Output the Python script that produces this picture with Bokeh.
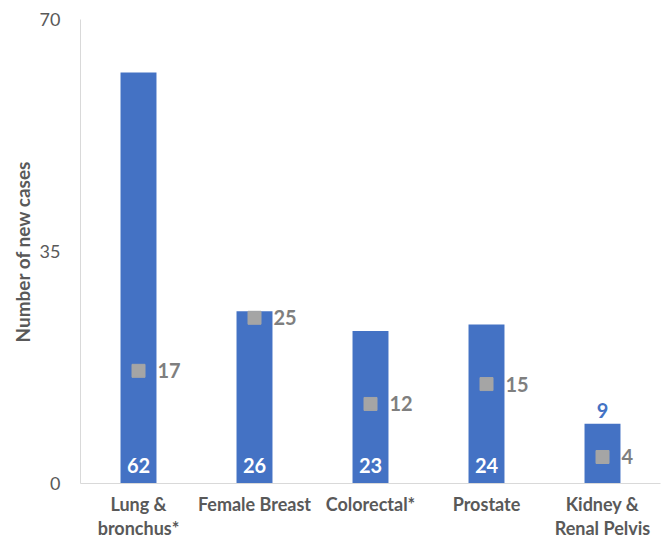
from bokeh.plotting import figure
from bokeh.models import ColumnDataSource, FixedTicker, Range1d, LinearAxis
from bokeh.embed import file_html
from bokeh.resources import INLINE
from bokeh.core.properties import value

# Cancer sites and counts
sites = ["Lung &\nbronchus*", "Female Breast", "Colorectal*", "Prostate", "Kidney &\nRenal Pelvis"]
new_cases = [62, 26, 23, 24, 9]
comparison = [17, 25, 12, 15, 4]
y_ticks = [0, 35, 70]

FONT = "Lato"
BAR = "#4472C4"
MARK = "#A5A5A5"
TXT = "#595959"

xs = [i + 0.5 for i in range(len(sites))]

p = figure(width=665, height=541, output_backend="svg", toolbar_location=None,
           x_range=Range1d(0, len(sites)), y_range=Range1d(0, 70),
           x_axis_location=None, y_axis_location=None,
           min_border_left=80, min_border_right=5, min_border_top=19, min_border_bottom=57)
p.outline_line_color = None
p.grid.visible = False

yax = LinearAxis(ticker=FixedTicker(ticks=y_ticks))
yax.axis_line_color = "#D9D9D9"
yax.major_tick_line_color = None
yax.minor_tick_line_color = None
yax.major_tick_out = 0
yax.major_tick_in = 0
yax.minor_tick_out = 0
yax.major_label_text_font = FONT
yax.major_label_text_font_size = "18px"
yax.major_label_text_color = TXT
yax.major_label_standoff = 20
yax.axis_label = "Number of new cases"
yax.axis_label_text_font = FONT
yax.axis_label_text_font_style = "bold"
yax.axis_label_text_font_size = "19px"
yax.axis_label_text_color = TXT
yax.axis_label_standoff = 3
p.add_layout(yax, "left")

xax = LinearAxis(ticker=FixedTicker(ticks=xs))
xax.major_label_overrides = {x: s for x, s in zip(xs, sites)}
xax.axis_line_color = "#D9D9D9"
xax.major_tick_line_color = None
xax.minor_tick_line_color = None
xax.major_tick_out = 0
xax.major_tick_in = 0
xax.minor_tick_out = 0
xax.major_label_text_font = FONT
xax.major_label_text_font_style = "bold"
xax.major_label_text_font_size = "18px"
xax.major_label_text_line_height = 1.1
xax.major_label_text_color = TXT
xax.major_label_standoff = 9
p.add_layout(xax, "below")

src = ColumnDataSource(dict(
    x=xs, cases=new_cases, comp=comparison,
    cases_lbl=[str(v) for v in new_cases],
    comp_lbl=[str(v) for v in comparison],
))

p.vbar(x="x", top="cases", bottom=0, width=0.31, source=src,
       fill_color=BAR, line_color=None)

p.scatter(x="x", y="comp", size=13, marker="square", source=src,
          fill_color=MARK, line_color=MARK)

# Values written inside the bars at their base (small bar gets it above)
inside = ColumnDataSource(dict(
    x=[x for x, v in zip(xs, new_cases) if v >= 15],
    t=[str(v) for v in new_cases if v >= 15],
))
outside = ColumnDataSource(dict(
    x=[x for x, v in zip(xs, new_cases) if v < 15],
    y=[v for v in new_cases if v < 15],
    t=[str(v) for v in new_cases if v < 15],
))
p.text(x="x", y=0, text="t", source=inside, y_offset=-18,
       text_align="center", text_baseline="middle",
       text_font=value(FONT), text_font_style="bold", text_font_size="20px",
       text_color="white")
p.text(x="x", y="y", text="t", source=outside, y_offset=-13,
       text_align="center", text_baseline="middle",
       text_font=value(FONT), text_font_style="bold", text_font_size="20px",
       text_color=BAR)

p.text(x="x", y="comp", text="comp_lbl", source=src, x_offset=19,
       text_align="left", text_baseline="middle",
       text_font=value(FONT), text_font_style="bold", text_font_size="20px",
       text_color="#7F7F7F")

open("out.html", "w").write(file_html(p, INLINE))
